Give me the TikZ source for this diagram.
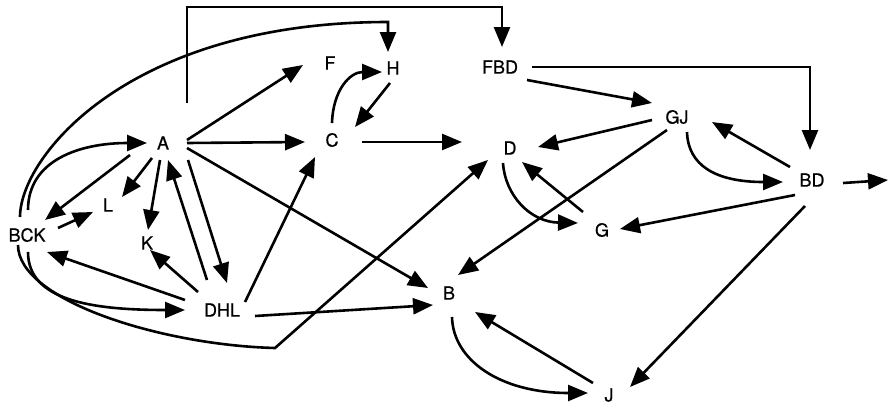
\documentclass[tikz,border=0pt]{standalone}
\usepackage{fontspec}
\setmainfont{TeX Gyre Heros}
\newfontfamily\lblfont[FakeBold=0.7]{TeX Gyre Heros}
\usetikzlibrary{arrows.meta}
\begin{document}
\begin{tikzpicture}[x=1pt,y=-1pt,
  lbl/.style={font=\lblfont\fontsize{18}{18}\selectfont, inner sep=0pt},
  arr/.style={line width=2.6pt, -{Triangle[length=20pt,width=16pt]}}]
\useasboundingbox (0,0) rectangle (895,405);

% states
\node[lbl] (A)   at (163,143) {A};
\node[lbl] (BCK) at (27,235)  {BCK};
\node[lbl] (L)   at (108,205) {L};
\node[lbl] (K)   at (147,243) {K};
\node[lbl] (DHL) at (222,310) {DHL};
\node[lbl] (F)   at (330,63)  {F};
\node[lbl] (H)   at (393,68)  {H};
\node[lbl] (C)   at (332,140) {C};
\node[lbl] (FBD) at (500,67)  {FBD};
\node[lbl] (D)   at (510,148) {D};
\node[lbl] (GJ)  at (677,117) {GJ};
\node[lbl] (BD)  at (812,180) {BD};
\node[lbl] (G)   at (602,230) {G};
\node[lbl] (B)   at (449,293) {B};
\node[lbl] (J)   at (609,395) {J};

% bend points and the free end
\coordinate (hk)  at (388,22);
\coordinate (dk)  at (275,348);
\coordinate (out) at (888,180);

% transitions out of A
\draw[arr] ([shift={(24,-3)}]A.center) -- ([shift={(-27,2)}]F.center);
\draw[arr] ([shift={(24,0)}]A.center) -- ([shift={(-27,2)}]C.center);
\draw[arr] ([shift={(24,5)}]A.center) -- ([shift={(-21,-5)}]B.center);
\draw[arr] ([shift={(-33,12)}]A.center) -- ([shift={(18,-15)}]BCK.center);
\draw[arr] ([shift={(-11,15)}]A.center) -- ([shift={(14,-8)}]L.center);
\draw[arr] ([shift={(-3,17)}]A.center) -- ([shift={(1,-13)}]K.center);
\draw[arr] ([shift={(25,17)}]A.center) -- ([shift={(5,-27)}]DHL.center);
\draw[arr] ([shift={(24,-40)}]A.center) -- ++(0,-96) -| ([shift={(2,-20)}]FBD.center);

% transitions out of BCK
\draw[arr] ([shift={(1,-25)}]BCK.center) .. controls (28,160) and (80,143) .. ([shift={(-16,0)}]A.center);
\draw[arr] ([shift={(-7,-18)}]BCK.center) .. controls (20,157) and (128,22) .. (hk) -- ([shift={(-5,-16)}]H.center);
\draw[arr] ([shift={(31,-7)}]BCK.center) -- ([shift={(-15,7)}]L.center);
\draw[arr] ([shift={(1,17)}]BCK.center) .. controls (28,300) and (90,310) .. ([shift={(-37,0)}]DHL.center);
\draw[arr] ([shift={(-9,10)}]BCK.center) .. controls (18,300) and (160,345) .. (dk) -- ([shift={(-22,12)}]D.center);

% transitions out of DHL
\draw[arr] ([shift={(-15,-30)}]DHL.center) -- ([shift={(5,17)}]A.center);
\draw[arr] ([shift={(-24,-18)}]DHL.center) -- ([shift={(3,7)}]K.center);
\draw[arr] ([shift={(-37,-10)}]DHL.center) -- ([shift={(20,17)}]BCK.center);
\draw[arr] ([shift={(23,-8)}]DHL.center) -- ([shift={(-17,17)}]C.center);
\draw[arr] ([shift={(33,6)}]DHL.center) -- ([shift={(-16,12)}]B.center);

% C and H
\draw[arr] ([shift={(0,-17)}]C.center) .. controls (333,90) and (350,72) .. ([shift={(-11,4)}]H.center);
\draw[arr] ([shift={(-3,15)}]H.center) -- ([shift={(23,-13)}]C.center);
\draw[arr] ([shift={(30,2)}]C.center) -- ([shift={(-48,-6)}]D.center);

% FBD, GJ, BD
\draw[arr] ([shift={(27,13)}]FBD.center) -- ([shift={(-25,-14)}]GJ.center);
\draw[arr] ([shift={(32,0)}]FBD.center) -| ([shift={(-2,-30)}]BD.center);
\draw[arr] ([shift={(-25,3)}]GJ.center) -- ([shift={(28,-1)}]D.center);
\draw[arr] ([shift={(-10,13)}]GJ.center) -- ([shift={(9,-18)}]B.center);
\draw[arr] ([shift={(10,15)}]GJ.center) .. controls (688,165) and (715,182) .. ([shift={(-29,2)}]BD.center);
\draw[arr] ([shift={(-22,-13)}]BD.center) -- ([shift={(35,5)}]GJ.center);
\draw[arr] ([shift={(31,3)}]BD.center) -- (out);
\draw[arr] ([shift={(-17,15)}]BD.center) -- ([shift={(18,-1)}]G.center);
\draw[arr] ([shift={(-7,26)}]BD.center) -- ([shift={(21,-8)}]J.center);

% D, G, B, J
\draw[arr] ([shift={(-7,15)}]D.center) .. controls (505,195) and (530,222) .. ([shift={(-24,-7)}]G.center);
\draw[arr] ([shift={(-19,-18)}]G.center) -- ([shift={(12,14)}]D.center);
\draw[arr] ([shift={(3,24)}]B.center) .. controls (453,360) and (500,393) .. ([shift={(-21,-2)}]J.center);
\draw[arr] ([shift={(-16,-12)}]J.center) -- ([shift={(26,19)}]B.center);
\end{tikzpicture}
\end{document}
